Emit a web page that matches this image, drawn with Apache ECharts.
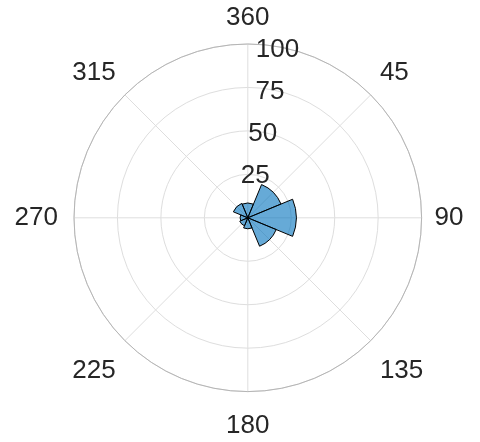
<!DOCTYPE html>
<html><head><meta charset="utf-8">
<script src="https://cdn.jsdelivr.net/npm/echarts@6/dist/echarts.min.js"></script>
<style>html,body{margin:0;padding:0;background:#fff}#c{width:480px;height:442px}</style>
</head><body><div id="c"></div>
<script>
const binCenters = [0, 45, 90, 135, 180, 225, 270, 315];
const binCounts = [8.5, 20.7, 27.9, 17.7, 6.3, 5.0, 4.4, 9.0];
const thetaTickStep = 45;
const rTickStep = 25;
const rMax = 100;

const FONT = '"Liberation Sans", Arial, Helvetica, sans-serif';
const TXT = '#262626';
const CX = 247.8, CY = 217.8, R = 173.8;

function thetaLabel(v) {
  const s = v === 0 ? '360' : String(v);
  if (v === 135 || v === 180 || v === 225) return '{lo|' + s + '}';
  if (v === 270) return '{lf|' + s + '}';
  return '{n|' + s + '}';
}
const tStyle = {fontSize: 26, color: TXT, fontFamily: FONT};

const chart = echarts.init(document.getElementById('c'), null, {renderer: 'canvas'});
chart.setOption({
  animation: false,
  backgroundColor: '#fff',
  polar: [
    {center: [CX, CY], radius: R},
    {center: [CX, CY], radius: R - 3}
  ],
  angleAxis: [
    {
      polarIndex: 0, type: 'value', min: 0, max: 360, interval: thetaTickStep,
      startAngle: 90, clockwise: true, z: 1,
      axisLine: {lineStyle: {color: '#b5b5b5', width: 1}},
      axisTick: {show: false},
      axisLabel: {margin: 13, fontSize: 26, color: TXT, fontFamily: FONT,
        formatter: thetaLabel,
        rich: {
          n: tStyle,
          lo: Object.assign({padding: [8, 0, 0, 0]}, tStyle),
          lf: Object.assign({padding: [0, 3, 0, 0]}, tStyle)
        }},
      splitLine: {lineStyle: {color: '#dedede', width: 1}}
    },
    {
      polarIndex: 1, type: 'value', min: 0, max: 360, startAngle: 80, clockwise: true,
      show: false
    }
  ],
  radiusAxis: [
    {
      polarIndex: 0, type: 'value', min: 0, max: rMax, interval: rTickStep, z: 0,
      axisLine: {show: false}, axisTick: {show: false}, axisLabel: {show: false},
      splitLine: {lineStyle: {color: '#dedede', width: 1}}
    },
    {
      polarIndex: 1, type: 'value', min: 0, max: rMax, interval: rTickStep, z: 10,
      axisLine: {show: false}, axisTick: {show: false}, splitLine: {show: false},
      axisLabel: {margin: 0, align: 'center', verticalAlign: 'middle', fontSize: 26,
        color: TXT, fontFamily: FONT, formatter: v => (v === 0 ? '' : String(v))}
    }
  ],
  series: [{
    type: 'bar', coordinateSystem: 'polar', polarIndex: 0,
    encode: {radius: 0, angle: 1},
    data: binCenters.map((a, i) => [binCounts[i], a]),
    barWidth: 45,
    itemStyle: {color: 'rgba(0,114,189,0.6)', borderColor: '#000', borderWidth: 1},
    z: 2
  }]
});
</script>
</body></html>
